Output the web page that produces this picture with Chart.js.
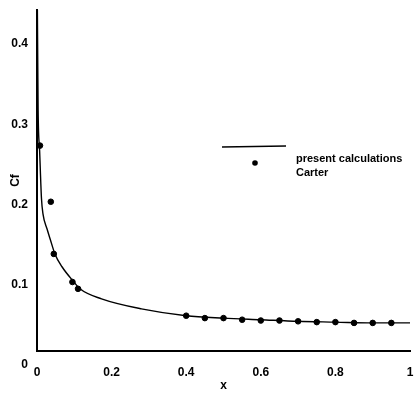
<!DOCTYPE html>
<html>
<head>
<meta charset="utf-8">
<script src="https://cdn.jsdelivr.net/npm/chart.js@4/dist/chart.umd.min.js"></script>
<style>
  html, body { margin: 0; padding: 0; background: #fff; }
  #wrap { width: 418px; height: 393px; }
</style>
</head>
<body>
<div id="wrap"><canvas id="cfChart"></canvas></div>
<script>
// present calculations (solid line)
const calcX  = [0.001, 0.002, 0.003, 0.007, 0.012, 0.016, 0.027, 0.035, 0.048, 0.067, 0.099, 0.115, 0.173, 0.28, 0.4, 0.5, 0.6, 0.7, 0.8, 0.9, 1.0];
const calcCf = [0.425, 0.36, 0.30, 0.25, 0.19, 0.171, 0.152, 0.14, 0.121, 0.105, 0.086, 0.0775, 0.065, 0.0525, 0.044, 0.041, 0.039, 0.037, 0.036, 0.035, 0.035];

// Carter (dots)
const carterX  = [0.008, 0.037, 0.045, 0.095, 0.11, 0.4, 0.45, 0.5, 0.55, 0.6, 0.65, 0.7, 0.75, 0.8, 0.85, 0.9, 0.95];
const carterCf = [0.256, 0.186, 0.121, 0.086, 0.0775, 0.044, 0.041, 0.041, 0.039, 0.038, 0.038, 0.037, 0.036, 0.036, 0.035, 0.035, 0.035];

const xTicks = [0, 0.2, 0.4, 0.6, 0.8, 1];
const xTickLabels = ["0", "0.2", "0.4", "0.6", "0.8", "1"];
const yTicks = [0, 0.1, 0.2, 0.3, 0.4];
const yTickLabels = ["0", "0.1", "0.2", "0.3", "0.4"];

const FONT = "'Liberation Sans', Arial, sans-serif";

const toPts = (xs, ys) => xs.map((x, i) => ({ x: x, y: ys[i] }));

// legend drawn like the original: line on top, dot under it, labels on the right
const oddLegend = {
  id: "oddLegend",
  afterDraw(chart) {
    const ctx = chart.ctx;
    const line = chart.data.datasets[0];
    const dots = chart.data.datasets[1];
    ctx.save();
    ctx.strokeStyle = line.borderColor;
    ctx.lineWidth = line.borderWidth;
    ctx.beginPath();
    ctx.moveTo(222, 147);
    ctx.lineTo(286, 146);
    ctx.stroke();
    ctx.fillStyle = dots.backgroundColor;
    ctx.beginPath();
    ctx.arc(255, 163, dots.pointRadius, 0, Math.PI * 2);
    ctx.fill();
    ctx.fillStyle = "#000";
    ctx.font = "bold 11px " + FONT;
    ctx.textBaseline = "middle";
    ctx.textAlign = "left";
    ctx.fillText(line.label, 296, 159);
    ctx.fillText(dots.label, 296, 173);
    ctx.restore();
  },
};

new Chart(document.getElementById("cfChart"), {
  type: "scatter",
  data: {
    datasets: [
      {
        label: "present calculations",
        data: toPts(calcX, calcCf),
        showLine: true,
        borderColor: "#000",
        borderWidth: 1.4,
        pointRadius: 0,
        cubicInterpolationMode: "monotone",
      },
      {
        label: "Carter",
        data: toPts(carterX, carterCf),
        showLine: false,
        backgroundColor: "#000",
        borderColor: "#000",
        pointRadius: 2.8,
      },
    ],
  },
  options: {
    responsive: true,
    maintainAspectRatio: false,
    animation: false,
    layout: { padding: { top: 10, right: 8, left: 0, bottom: 0 } },
    plugins: {
      legend: { display: false },
      tooltip: { enabled: false },
    },
    scales: {
      x: {
        type: "linear",
        min: 0,
        max: 1,
        afterFit: (s) => { s.height = 42; s.paddingLeft = 0; s.paddingRight = 0; },
        afterBuildTicks: (s) => { s.ticks = xTicks.map((v) => ({ value: v })); },
        grid: { drawOnChartArea: false, drawTicks: false },
        border: { color: "#000", width: 2 },
        ticks: {
          color: "#000",
          padding: 14,
          maxRotation: 0,
          callback: (v, i) => xTickLabels[i],
          font: { family: FONT, size: 12, weight: "bold" },
        },
        title: {
          display: true,
          text: "x",
          color: "#000",
          padding: { top: 0, bottom: 0 },
          font: { family: FONT, size: 12, weight: "bold" },
        },
      },
      y: {
        type: "linear",
        min: 0,
        max: 0.425,
        afterFit: (s) => { s.width = 37; s.paddingTop = 0; s.paddingBottom = 0; },
        afterBuildTicks: (s) => { s.ticks = yTicks.map((v) => ({ value: v })); },
        grid: { drawOnChartArea: false, drawTicks: false },
        border: { color: "#000", width: 2 },
        ticks: {
          color: "#000",
          padding: 9,
          labelOffset: 14,
          callback: (v, i) => yTickLabels[i],
          font: { family: FONT, size: 12, weight: "bold" },
        },
        title: {
          display: true,
          text: "Cf",
          color: "#000",
          padding: { top: 8, bottom: 0 },
          font: { family: FONT, size: 12, weight: "bold" },
        },
      },
    },
  },
  plugins: [oddLegend],
});
</script>
</body>
</html>
